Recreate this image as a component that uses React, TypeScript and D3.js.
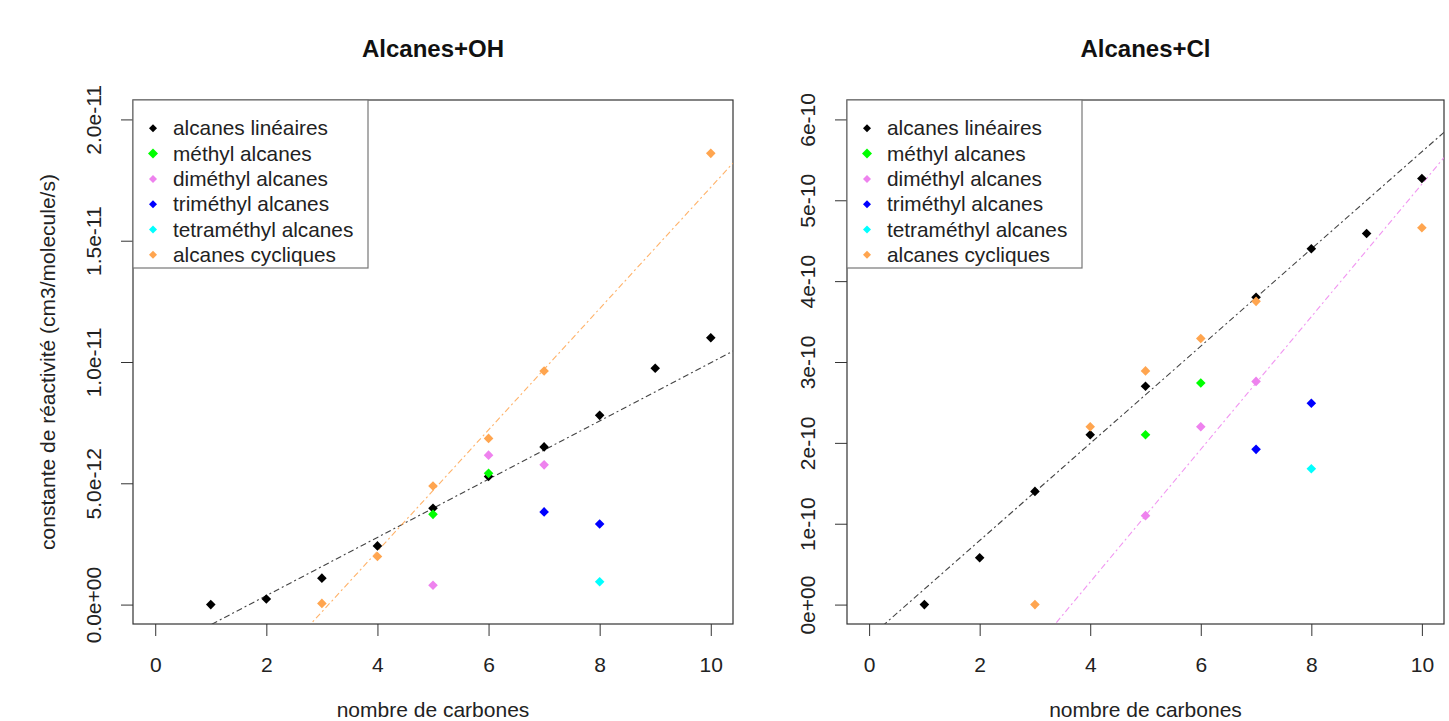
import React, { useRef, useEffect } from 'react';
import * as d3 from 'd3';

// ---- data ----
const seriesNames = ['alcanes linéaires', 'méthyl alcanes', 'diméthyl alcanes', 'triméthyl alcanes', 'tetraméthyl alcanes', 'alcanes cycliques'];
const seriesColors = ['#000000', '#00ff00', '#ee82ee', '#0000ff', '#00ffff', '#ffa54f'];

// Alcanes + OH (cm3/molecule/s)
const ohLineairesX = [1, 2, 3, 4, 5, 6, 7, 8, 9, 10];
const ohLineairesY = [0, 0.23e-12, 1.09e-12, 2.42e-12, 3.97e-12, 5.28e-12, 6.5e-12, 7.8e-12, 9.74e-12, 11.0e-12];
const ohMethylX = [5, 6];
const ohMethylY = [3.72e-12, 5.41e-12];
const ohDimethylX = [5, 6, 7];
const ohDimethylY = [0.8e-12, 6.16e-12, 5.76e-12];
const ohTrimethylX = [7, 8];
const ohTrimethylY = [3.82e-12, 3.32e-12];
const ohTetramethylX = [8];
const ohTetramethylY = [0.94e-12];
const ohCycliquesX = [3, 4, 5, 6, 7, 10];
const ohCycliquesY = [0.05e-12, 1.98e-12, 4.89e-12, 6.85e-12, 9.63e-12, 18.6e-12];
// fitted lines: [intercept, slope, series index]
const ohFitLineaires = [-2.03e-12, 1.2e-12, 0];
const ohFitCycliques = [-7.8e-12, 2.5e-12, 5];
const ohYTicks = [0, 5e-12, 1e-11, 1.5e-11, 2e-11];
const ohYTickLabels = ['0.0e+00', '5.0e-12', '1.0e-11', '1.5e-11', '2.0e-11'];
const ohYLim = [0, 2e-11];

// Alcanes + Cl
const clLineairesX = [1, 2, 3, 4, 5, 7, 8, 9, 10];
const clLineairesY = [0, 0.58e-10, 1.4e-10, 2.1e-10, 2.7e-10, 3.8e-10, 4.4e-10, 4.59e-10, 5.27e-10];
const clMethylX = [5, 6];
const clMethylY = [2.1e-10, 2.74e-10];
const clDimethylX = [5, 6, 7];
const clDimethylY = [1.1e-10, 2.2e-10, 2.76e-10];
const clTrimethylX = [7, 8];
const clTrimethylY = [1.92e-10, 2.49e-10];
const clTetramethylX = [8];
const clTetramethylY = [1.68e-10];
const clCycliquesX = [3, 4, 5, 6, 7, 10];
const clCycliquesY = [0, 2.2e-10, 2.89e-10, 3.29e-10, 3.75e-10, 4.66e-10];
const clFitLineaires = [-0.41e-10, 0.601e-10, 0];
const clFitDimethyl = [-3.0e-10, 0.82e-10, 2];
const clYTicks = [0, 1e-10, 2e-10, 3e-10, 4e-10, 5e-10, 6e-10];
const clYTickLabels = ['0e+00', '1e-10', '2e-10', '3e-10', '4e-10', '5e-10', '6e-10'];
const clYLim = [0, 6e-10];

const xTicks = [0, 2, 4, 6, 8, 10];
const xLim = [0, 10];

const W = 1449;
const H = 721;
const FONT = '"Liberation Sans", Arial, sans-serif';
const TXT = '#222';

const diamond = (r: number) => `M0,${-r}L${r},0L0,${r}L${-r},0Z`;

type Panel = {
  id: string;
  title: string;
  left: number;
  right: number;
  xs: number[][];
  ys: number[][];
  fits: number[][];
  yTicks: number[];
  yTickLabels: string[];
  yLim: number[];
  yLabel?: string;
};

const panels: Panel[] = [
  {
    id: 'oh',
    title: 'Alcanes+OH',
    left: 133,
    right: 733,
    xs: [ohLineairesX, ohMethylX, ohDimethylX, ohTrimethylX, ohTetramethylX, ohCycliquesX],
    ys: [ohLineairesY, ohMethylY, ohDimethylY, ohTrimethylY, ohTetramethylY, ohCycliquesY],
    fits: [ohFitLineaires, ohFitCycliques],
    yTicks: ohYTicks,
    yTickLabels: ohYTickLabels,
    yLim: ohYLim,
    yLabel: 'constante de réactivité (cm3/molecule/s)',
  },
  {
    id: 'cl',
    title: 'Alcanes+Cl',
    left: 847,
    right: 1444,
    xs: [clLineairesX, clMethylX, clDimethylX, clTrimethylX, clTetramethylX, clCycliquesX],
    ys: [clLineairesY, clMethylY, clDimethylY, clTrimethylY, clTetramethylY, clCycliquesY],
    fits: [clFitLineaires, clFitDimethyl],
    yTicks: clYTicks,
    yTickLabels: clYTickLabels,
    yLim: clYLim,
  },
];

const TOP = 100;
const BOTTOM = 624;

// legend marker size (green one is drawn a little bigger in the original)
const legendMarker = (i: number) => (i === 1 ? 5 : 4);

const App = () => {
  const svgRef = useRef<SVGSVGElement>(null);

  useEffect(() => {
    const svg = d3.select(svgRef.current);
    svg.selectAll('*').remove();

    panels.forEach((p) => {
      // R style 4% axis extension
      const xPad = (xLim[1] - xLim[0]) * 0.04;
      const yPad = (p.yLim[1] - p.yLim[0]) * 0.04;
      const x = d3.scaleLinear().domain([xLim[0] - xPad, xLim[1] + xPad]).range([p.left, p.right]);
      const y = d3.scaleLinear().domain([p.yLim[0] - yPad, p.yLim[1] + yPad]).range([BOTTOM, TOP]);

      const g = svg.append('g');

      g.append('clipPath')
        .attr('id', `clip-${p.id}`)
        .append('rect')
        .attr('x', p.left)
        .attr('y', TOP)
        .attr('width', p.right - p.left)
        .attr('height', BOTTOM - TOP);

      // title
      g.append('text')
        .attr('x', (p.left + p.right) / 2)
        .attr('y', 57)
        .attr('text-anchor', 'middle')
        .style('font-family', FONT)
        .style('font-size', '24px')
        .style('font-weight', 700)
        .attr('fill', '#111')
        .text(p.title);

      // x axis
      const xAxis = g.append('g')
        .attr('transform', `translate(0, ${BOTTOM})`)
        .call(d3.axisBottom(x).tickValues(xTicks).tickSize(12).tickPadding(36).tickFormat(d3.format('d')));
      xAxis.select('.domain').remove();
      xAxis.selectAll('line').attr('stroke', '#333');
      xAxis.selectAll('text')
        .attr('dy', 0)
        .style('font-family', FONT)
        .style('font-size', '21px')
        .attr('fill', TXT);

      // y axis
      const yAxis = g.append('g')
        .attr('transform', `translate(${p.left}, 0)`)
        .call(d3.axisLeft(y).tickValues(p.yTicks).tickSize(12).tickFormat((d, i) => p.yTickLabels[i]));
      yAxis.select('.domain').remove();
      yAxis.selectAll('line').attr('stroke', '#333');
      yAxis.selectAll('text')
        .attr('x', 0)
        .attr('dy', 0)
        .attr('text-anchor', 'middle')
        .attr('transform', `translate(-32, 0) rotate(-90)`)
        .style('font-family', FONT)
        .style('font-size', '21px')
        .attr('fill', TXT);

      // x label
      g.append('text')
        .attr('x', (p.left + p.right) / 2)
        .attr('y', 717)
        .attr('text-anchor', 'middle')
        .style('font-family', FONT)
        .style('font-size', '21px')
        .attr('fill', TXT)
        .text('nombre de carbones');

      if (p.yLabel) {
        g.append('text')
          .attr('transform', `translate(55, ${(TOP + BOTTOM) / 2}) rotate(-90)`)
          .attr('text-anchor', 'middle')
          .style('font-family', FONT)
          .style('font-size', '21px')
          .attr('fill', TXT)
          .text(p.yLabel);
      }

      // frame
      g.append('rect')
        .attr('x', p.left)
        .attr('y', TOP)
        .attr('width', p.right - p.left)
        .attr('height', BOTTOM - TOP)
        .attr('fill', 'none')
        .attr('stroke', '#333')
        .attr('stroke-width', 1.2);

      // regression lines
      const line = d3.line<number[]>().x((d) => x(d[0])).y((d) => y(d[1]));
      p.fits.forEach((f) => {
        const x0 = xLim[0] - xPad;
        const x1 = xLim[1] + xPad;
        g.append('path')
          .attr('clip-path', `url(#clip-${p.id})`)
          .attr('d', line([[x0, f[0] + f[1] * x0], [x1, f[0] + f[1] * x1]]))
          .attr('fill', 'none')
          .attr('stroke', f[2] === 0 ? '#444' : seriesColors[f[2]])
          .attr('stroke-opacity', f[2] === 0 ? 1 : 0.85)
          .attr('stroke-width', 1.1)
          .attr('stroke-dasharray', '2,3,6,3');
      });

      // points
      p.xs.forEach((xsArr, si) => {
        g.selectAll(`.pt-${p.id}-${si}`)
          .data(xsArr)
          .join('path')
          .attr('class', `pt-${p.id}-${si}`)
          .attr('transform', (d, i) => `translate(${x(d)}, ${y(p.ys[si][i])})`)
          .attr('d', diamond(4.8))
          .attr('fill', seriesColors[si]);
      });

      // legend
      const leg = g.append('g').attr('transform', `translate(${p.left}, ${TOP})`);
      leg.append('rect')
        .attr('width', 235)
        .attr('height', 168)
        .attr('fill', 'white')
        .attr('stroke', '#777')
        .attr('stroke-width', 1.2);
      seriesNames.forEach((name, i) => {
        const cy = 28.3 + i * 25.3;
        leg.append('path')
          .attr('transform', `translate(20, ${cy})`)
          .attr('d', diamond(legendMarker(i)))
          .attr('fill', seriesColors[i]);
        leg.append('text')
          .attr('x', 40)
          .attr('y', cy + 7)
          .style('font-family', FONT)
          .style('font-size', '20.8px')
          .attr('fill', TXT)
          .text(name);
      });
    });
  }, []);

  return (
    <svg ref={svgRef} width={W} height={H} style={{ position: 'absolute', left: 0, top: 0, background: 'white' }} />
  );
};

export default App;
